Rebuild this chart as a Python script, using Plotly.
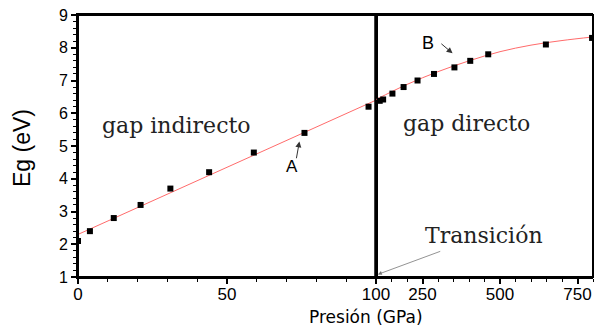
import plotly.graph_objects as go

# Data
x_ind = [0, 4, 12, 21, 31, 44, 59, 76, 97.5]
eg_ind = [2.1, 2.4, 2.8, 3.2, 3.7, 4.2, 4.8, 5.4, 6.2]
x_dir = [112, 123, 153, 189, 234, 287, 353, 404, 462, 648, 797]
eg_dir = [6.38, 6.42, 6.6, 6.8, 7.0, 7.2, 7.4, 7.6, 7.8, 8.1, 8.3]
fit_ind_x = [0, 50, 100]
fit_ind_y = [2.3, 4.35, 6.4]
fit_dir_x = [100, 200, 300, 400, 500, 600, 700, 800]
fit_dir_y = [6.42, 6.88, 7.27, 7.6, 7.88, 8.08, 8.22, 8.33]
left_ticks = [0, 50, 100]
right_ticks = [250, 500, 750]

# page body has an 8px margin, so the figure is sized to fit the 603x329 window
W, H = 595, 321
L, R, T, B = 70, 10, 7, 52
PW, PH = W - L - R, H - T - B
split = (376 - 78) / PW

red = "#ff6b6b"
fig = go.Figure()
fig.add_trace(go.Scatter(x=fit_ind_x, y=fit_ind_y, mode="lines",
                         line=dict(color=red, width=1), xaxis="x", yaxis="y"))
fig.add_trace(go.Scatter(x=fit_dir_x, y=fit_dir_y, mode="lines",
                         line=dict(color=red, width=1, shape="spline"), xaxis="x2", yaxis="y"))
fig.add_trace(go.Scatter(x=x_ind, y=eg_ind, mode="markers",
                         marker=dict(symbol="square", size=6, color="black"), xaxis="x", yaxis="y"))
fig.add_trace(go.Scatter(x=x_dir, y=eg_dir, mode="markers",
                         marker=dict(symbol="square", size=6, color="black"), xaxis="x2", yaxis="y"))

sans = "Liberation Sans, Arial, sans-serif"
tickfont = dict(family=sans, size=17, color="black")
axis_common = dict(showline=True, linecolor="black", linewidth=2, mirror=True,
                   showgrid=False, zeroline=False, ticks="outside", ticklen=5,
                   tickwidth=1.5, tickcolor="black", tickfont=tickfont, automargin=False,
                   ticklabeloverflow="allow")

fig.update_layout(
    width=W, height=H, margin=dict(l=L, r=R, t=T, b=B, autoexpand=False),
    paper_bgcolor="white", plot_bgcolor="white", showlegend=False,
    xaxis=dict(domain=[0, split], range=[0, 100], tickvals=left_ticks,
               minor=dict(dtick=10, ticks="outside", ticklen=3, tickcolor="black", tickwidth=1),
               anchor="y", ticklabelstandoff=-4, **axis_common),
    xaxis2=dict(domain=[split, 1], range=[100, 800], tickvals=right_ticks,
                minor=dict(dtick=50, ticks="outside", ticklen=3, tickcolor="black", tickwidth=1),
                anchor="y", ticklabelstandoff=-4, **axis_common),
    yaxis=dict(range=[1, 9], dtick=1,
               minor=dict(dtick=0.2, ticks="outside", ticklen=3, tickcolor="black", tickwidth=1),
               **{**axis_common, "tickfont": dict(family=sans, size=16, color="black")}),
)

# frame and thick boundary line at the transition
fig.add_shape(type="rect", xref="paper", yref="paper", x0=0, x1=1, y0=0, y1=1,
              line=dict(color="black", width=2), layer="above")
fig.add_shape(type="line", xref="x", yref="paper", x0=100, x1=100, y0=0, y1=1,
              line=dict(color="black", width=3.5))

serif = "DejaVu Serif, Liberation Serif, serif"
ann = []
ann.append(dict(text="gap indirecto", x=33, y=5.62, xref="x", yref="y", showarrow=False,
                font=dict(family=serif, size=22, color="#222")))
ann.append(dict(text="gap directo", x=392, y=5.68, xref="x2", yref="y", showarrow=False,
                font=dict(family=serif, size=22, color="#222")))
ann.append(dict(text="Transición", x=448, y=2.28, xref="x2", yref="y", showarrow=False,
                font=dict(family=serif, size=22, color="#222")))
ann.append(dict(text="A", x=71.7, y=4.37, xref="x", yref="y", showarrow=False,
                font=dict(family=sans, size=17, color="black")))
ann.append(dict(text="B", x=268, y=8.16, xref="x2", yref="y", showarrow=False,
                font=dict(family=sans, size=18, color="black")))
# arrows
ann.append(dict(text="", x=74.3, y=5.14, ax=73.2, ay=4.58, xref="x", yref="y",
                axref="x", ayref="y", showarrow=True, arrowhead=2, arrowsize=1.2,
                arrowwidth=1, arrowcolor="#333"))
ann.append(dict(text="", x=347, y=7.83, ax=306, ay=8.16, xref="x2", yref="y",
                axref="x2", ayref="y", showarrow=True, arrowhead=2, arrowsize=1.2,
                arrowwidth=1, arrowcolor="#333"))
ann.append(dict(text="", x=106, y=1.08, ax=312, ay=1.8, xref="x2", yref="y",
                axref="x2", ayref="y", showarrow=True, arrowhead=2, arrowsize=1,
                arrowwidth=0.8, arrowcolor="#777"))
# axis titles
ann.append(dict(text="Presión (GPa)", x=(366 - 78) / PW, y=(277 - 317) / PH,
                xref="paper", yref="paper", showarrow=False, xanchor="center", yanchor="middle",
                font=dict(family="DejaVu Sans, sans-serif", size=17, color="black")))
ann.append(dict(text="Eg (eV)", x=(22 - 78) / PW, y=(277 - 148) / PH,
                xref="paper", yref="paper", showarrow=False, textangle=-90,
                xanchor="center", yanchor="middle",
                font=dict(family=sans, size=23, color="black")))
fig.update_layout(annotations=ann)

fig.write_html("out.html")
